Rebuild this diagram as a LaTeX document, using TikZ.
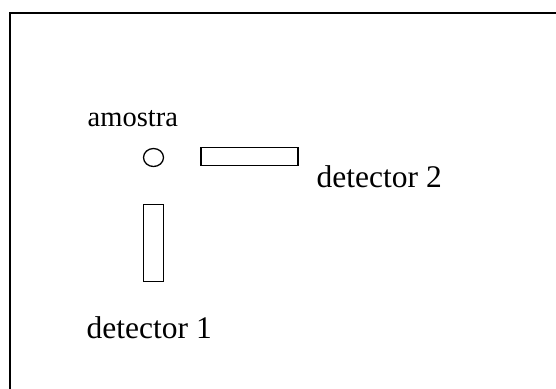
\documentclass[tikz,border=0pt]{standalone}
\usepackage{fontspec}
\setmainfont{Liberation Serif}
\usetikzlibrary{shapes.geometric}
\begin{document}
\begin{tikzpicture}[x=1pt,y=-1pt,
  lbl/.style={inner sep=0pt,anchor=base west},
  part/.style={draw=black,line width=1.3pt,inner sep=0pt,outer sep=0pt},
  frameline/.style={draw=black,line width=2pt}]
\useasboundingbox (0,0) rectangle (556,388);
\draw[frameline] (9.5,400) -- (9.5,12.5) -- (570,12.5);
\node[lbl,font=\fontsize{28.5}{30}\selectfont] (amostra) at (87.5,126) {amostra};
\node[part,ellipse,minimum width=20pt,minimum height=18pt] (sample) at (153.5,157.5) {};
\node[part,rectangle,minimum width=97pt,minimum height=18.5pt] (det2box) at (249.5,156.5) {};
\node[part,rectangle,minimum width=19.5pt,minimum height=77pt] (det1box) at (153.5,243) {};
\node[lbl,font=\fontsize{31.5}{33}\selectfont] (det2) at (316.5,187) {detector 2};
\node[lbl,font=\fontsize{31.5}{33}\selectfont] (det1) at (86.5,338) {detector 1};
\end{tikzpicture}
\end{document}
